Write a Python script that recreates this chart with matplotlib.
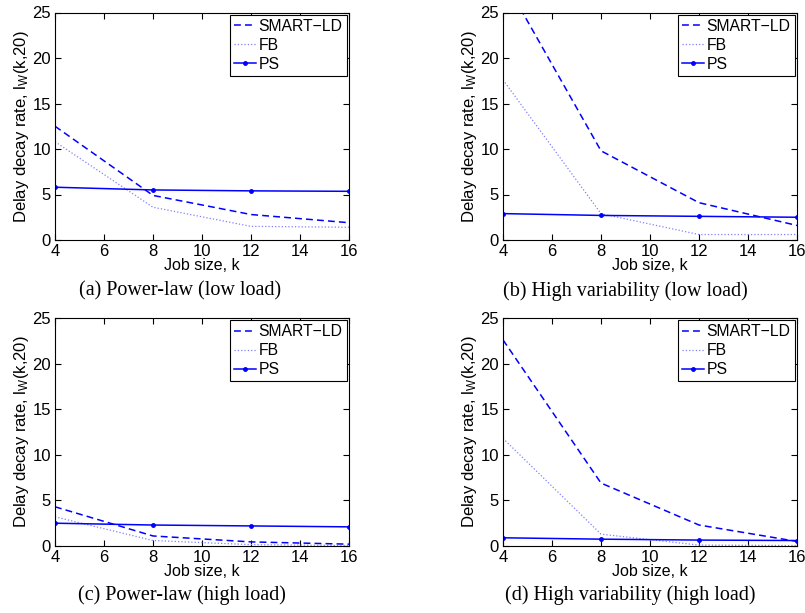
import matplotlib
matplotlib.use("Agg")
import matplotlib.pyplot as plt

plt.rcParams['font.family'] = ['Liberation Sans', 'DejaVu Sans']
plt.rcParams['mathtext.fontset'] = 'custom'
plt.rcParams['mathtext.rm'] = 'Liberation Sans'
plt.rcParams['mathtext.it'] = 'Liberation Sans:italic'

# Data
job_size = [4, 8, 12, 16]

smart_a = [12.5, 4.9, 2.8, 1.9]
fb_a = [10.8, 3.6, 1.5, 1.4]
ps_a = [5.8, 5.5, 5.4, 5.35]

smart_b = [28.8, 9.8, 4.1, 1.6]
fb_b = [17.6, 2.9, 0.6, 0.6]
ps_b = [2.9, 2.7, 2.6, 2.5]

smart_c = [4.3, 1.1, 0.45, 0.2]
fb_c = [3.2, 0.6, 0.15, 0.05]
ps_c = [2.5, 2.3, 2.2, 2.1]

smart_d = [22.6, 6.9, 2.3, 0.5]
fb_d = [11.8, 1.3, 0.1, 0.05]
ps_d = [0.9, 0.75, 0.65, 0.6]

captions = ["(a) Power-law (low load)", "(b) High variability (low load)",
            "(c) Power-law (high load)", "(d) High variability (high load)"]

W, H = 805, 613
fig = plt.figure(figsize=(W / 100, H / 100), dpi=100)

# axes boxes in pixels: left, right, top, bottom
boxes = [(55, 349, 12.5, 240), (503, 797, 12.5, 240),
         (55, 349, 318, 546), (503, 797, 318, 546)]
caption_pos = [(180, 291), (625, 291), (182, 595), (630, 595)]
series = [(smart_a, fb_a, ps_a), (smart_b, fb_b, ps_b),
          (smart_c, fb_c, ps_c), (smart_d, fb_d, ps_d)]

for (l, r, t, b), (sm, fb, ps), cap, (cx, cy) in zip(boxes, series, captions, caption_pos):
    ax = fig.add_axes([l / W, 1 - b / H, (r - l) / W, (b - t) / H])
    ax.plot(job_size, sm, '--', color='#0000ff', lw=1.1, dashes=(4.5, 2.7),
            label='SMART\u2212LD')
    ax.plot(job_size, fb, ':', color='#8080ff', lw=0.9, label='FB')
    ax.plot(job_size, ps, '-', color='#0000ff', lw=1.1, marker='.', markersize=5, label='PS')
    ax.set_xlim(4, 16)
    ax.set_ylim(0, 25)
    ax.set_xticks([4, 6, 8, 10, 12, 14, 16])
    ax.set_yticks([0, 5, 10, 15, 20, 25])
    ax.tick_params(direction='in', top=True, right=True, labelsize=12, pad=3, length=4)
    ax.set_xlabel('Job size, k', fontsize=11.5, labelpad=-1)
    ax.set_ylabel(r'Delay decay rate, l$_\mathrm{W}$(k,20)', fontsize=12, labelpad=1)
    leg = ax.legend(loc='upper right', fontsize=11.3, fancybox=False, framealpha=1,
                    edgecolor='black', borderaxespad=0.15, handlelength=1.4,
                    borderpad=0.25, labelspacing=0.25, handletextpad=0.2)
    leg.get_frame().set_linewidth(0.8)
    fig.text(cx / W, 1 - cy / H, cap, ha='center', va='center',
             fontsize=14.5, family='Liberation Serif')

fig.savefig('out.png', dpi=100)
